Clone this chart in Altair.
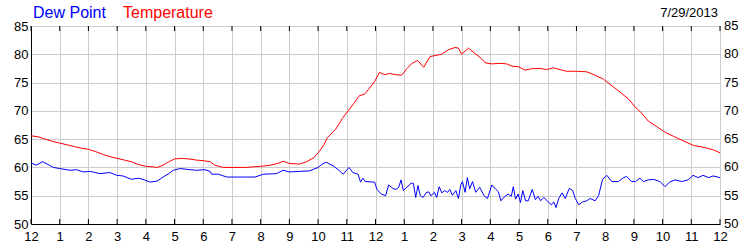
import altair as alt
import pandas as pd

# ---------------- data ----------------
temp_hours = [0.0, 0.25, 0.5, 0.75, 1.0, 1.25, 1.5, 1.75, 2.0, 2.25, 2.5, 2.75, 3.0, 3.25, 3.5, 3.75,
              4.0, 4.25, 4.4, 4.6, 4.8, 5.0, 5.25, 5.5, 5.75, 6.0, 6.25, 6.4, 6.7, 7.0, 7.5, 7.97,
              8.2, 8.43, 8.65, 8.78, 9.0, 9.35, 9.6, 9.87, 10.04, 10.2, 10.33, 10.62, 10.85, 11.03,
              11.26, 11.44, 11.61, 11.79, 11.97, 12.14, 12.32, 12.49, 12.7, 12.91, 13.1, 13.27,
              13.47, 13.68, 13.9, 14.3, 14.54, 14.77, 14.89, 15.0, 15.24, 15.47, 15.64, 15.82,
              16.05, 16.34, 16.57, 16.75, 16.98, 17.21, 17.5, 17.73, 17.96, 18.2, 18.43, 18.65,
              19.0, 19.36, 19.65, 19.94, 20.17, 20.52, 20.81, 21.04, 21.27, 21.5, 21.8, 22.09,
              22.38, 22.72, 23.07, 23.48, 23.77, 24.0]
temp_vals = [65.6, 65.4, 65.0, 64.6, 64.3, 64.0, 63.7, 63.4, 63.2, 62.8, 62.3, 61.9, 61.6, 61.3, 61.0, 60.5,
             60.2, 60.1, 60.0, 60.4, 61.0, 61.5, 61.6, 61.5, 61.3, 61.2, 61.0, 60.4, 60.0, 60.0, 60.0, 60.2,
             60.3, 60.5, 60.8, 61.1, 60.7, 60.6, 61.0, 61.8, 62.8, 64.0, 65.3, 66.8, 68.7, 69.9,
             71.4, 72.7, 72.9, 74.0, 75.2, 76.8, 76.4, 76.6, 76.4, 76.3, 77.5, 78.4,
             78.9, 77.7, 79.6, 80.0, 80.8, 81.2, 81.1, 80.0, 81.1, 80.1, 79.5, 78.5,
             78.3, 78.4, 78.3, 77.9, 77.8, 77.2, 77.5, 77.5, 77.3, 77.6, 77.3, 77.0,
             77.0, 76.9, 76.3, 75.6, 74.7, 73.3, 72.1, 70.7, 69.6, 68.2, 67.2, 66.2,
             65.5, 64.7, 63.9, 63.5, 63.1, 62.6]

dew_hours = [0.0, 0.18, 0.4, 0.6, 0.78, 1.0, 1.36, 1.59, 1.82, 2.06, 2.4, 2.75, 2.99, 3.2, 3.5, 3.75,
             3.95, 4.15, 4.4, 4.6, 4.8, 4.95, 5.2, 5.54, 5.77, 6.06, 6.24, 6.29, 6.52, 6.82, 7.2, 7.5,
             7.8, 8.1, 8.55, 8.78, 9.0, 9.36, 9.71, 10.0, 10.17, 10.29, 10.52, 10.75, 10.87, 11.08,
             11.21, 11.39, 11.48, 11.56, 11.64, 11.97, 12.05, 12.2, 12.35, 12.46, 12.6, 12.72, 12.81,
             12.89, 12.97, 13.09, 13.24, 13.32, 13.4, 13.48, 13.56, 13.66, 13.76, 13.85, 13.93, 14.05,
             14.13, 14.22, 14.31, 14.4, 14.51, 14.59, 14.68, 14.8, 14.89, 14.97, 15.03, 15.12, 15.2,
             15.28, 15.38, 15.49, 15.63, 15.78, 15.9, 16.05, 16.18, 16.28, 16.37, 16.47, 16.62, 16.73,
             16.8, 16.88, 16.97, 17.05, 17.13, 17.23, 17.32, 17.46, 17.57, 17.66, 17.75, 17.86, 17.98,
             18.12, 18.21, 18.29, 18.38, 18.5, 18.61, 18.75, 18.87, 18.96, 19.08, 19.21, 19.36, 19.48,
             19.65, 19.77, 19.91, 20.06, 20.23, 20.46, 20.64, 20.75, 20.92, 21.06, 21.21, 21.33, 21.5,
             21.68, 21.91, 22.08, 22.25, 22.43, 22.66, 22.89, 23.06, 23.24, 23.41, 23.61, 23.76, 24.0]
dew_vals = [60.8, 60.4, 61.0, 60.5, 60.0, 59.8, 59.5, 59.6, 59.2, 59.3, 58.9, 59.1, 58.6, 58.5, 57.9, 58.1,
            57.8, 57.4, 57.6, 58.3, 58.9, 59.5, 59.8, 59.6, 59.5, 59.6, 59.3, 58.8, 58.8, 58.3, 58.3, 58.3,
            58.3, 58.8, 58.9, 59.5, 59.2, 59.3, 59.4, 60.0, 60.7, 60.9, 60.3, 59.4, 58.8, 60.0,
            59.1, 58.8, 57.4, 58.1, 57.5, 57.4, 56.1, 55.3, 55.0, 56.9, 56.3, 56.1, 56.5,
            57.8, 55.9, 56.5, 57.2, 57.2, 54.7, 56.8, 55.0, 54.7, 55.5, 55.7, 55.0, 55.6,
            54.7, 56.6, 55.5, 55.9, 55.6, 56.1, 55.1, 55.9, 54.5, 56.9, 57.5, 55.6, 58.2,
            56.2, 57.5, 55.6, 56.5, 55.0, 54.5, 56.9, 56.2, 55.7, 54.1, 54.7, 55.3, 54.9,
            56.6, 54.4, 55.3, 53.8, 55.9, 54.1, 54.1, 56.1, 54.3, 54.9, 54.1, 54.7, 54.1,
            53.4, 53.9, 52.9, 54.5, 55.5, 54.5, 56.3, 55.9, 54.5, 53.4, 53.9, 54.1, 54.5,
            54.1, 55.0, 57.9, 58.6, 57.5, 57.5, 58.2, 58.4, 57.5, 57.5, 58.1, 57.5, 57.8,
            57.9, 57.5, 56.6, 57.4, 57.8, 57.5, 57.8, 58.6, 58.2, 58.6, 58.2, 58.5, 58.2]

tick_hours = list(range(25))
tick_labels = ["12", "1", "2", "3", "4", "5", "6", "7", "8", "9", "10", "11",
               "12", "1", "2", "3", "4", "5", "6", "7", "8", "9", "10", "11", "12"]
y_ticks = [50, 55, 60, 65, 70, 75, 80, 85]
series_names = ["Dew Point", "Temperature"]
date_label = ["7/29/2013"]

# ---------------- chart ----------------
FONT = "Liberation Sans"
W, H = 689, 198

temp_df = pd.DataFrame({"hour": temp_hours, "value": temp_vals})
dew_df = pd.DataFrame({"hour": dew_hours, "value": dew_vals})
tick_df = pd.DataFrame({"hour": tick_hours})
ytick_df = pd.DataFrame({"value": y_ticks})

xscale = alt.Scale(domain=[0, 24], nice=False, zero=False)
yscale = alt.Scale(domain=[50, 85], nice=False, zero=False)

label_expr = "[" + ",".join("'" + s + "'" for s in tick_labels) + "][datum.value]"

x_axis = alt.Axis(values=tick_hours, labelExpr=label_expr, grid=True,
                  gridColor="#cccccc", ticks=False, domainColor="black",
                  labelFont=FONT, labelFontSize=13, labelColor="black",
                  labelPadding=6, labelFlush=False, labelOverlap=False)
y_axis = alt.Axis(orient="left", values=y_ticks, grid=True, gridColor="#cccccc",
                  ticks=False, domainColor="black", labelFont=FONT, labelFontSize=13,
                  labelColor="black", labelPadding=3, labelFlush=False,
                  labelOverlap=False)


def xenc():
    return alt.X("hour:Q", scale=xscale, title=None, axis=x_axis)


def yenc():
    return alt.Y("value:Q", scale=yscale, title=None, axis=y_axis)


temp = alt.Chart(temp_df).mark_line(color="#ff0000", strokeWidth=1).encode(x=xenc(), y=yenc())
dew = alt.Chart(dew_df).mark_line(color="#0000ff", strokeWidth=1).encode(x=xenc(), y=yenc())

ticks_bottom = alt.Chart(tick_df).mark_rule(color="black", strokeWidth=1).encode(
    x=xenc(), y=alt.value(H), y2=alt.value(H - 5),
)
ticks_top = alt.Chart(tick_df).mark_rule(color="black", strokeWidth=1).encode(
    x=xenc(), y=alt.value(0), y2=alt.value(5),
)

# right-hand axis labels, placed through the shared y scale
right_labels = alt.Chart(ytick_df).mark_text(
    font=FONT, fontSize=13, color="black", align="left", baseline="middle"
).encode(text=alt.Text("value:Q"), y=yenc(), x=alt.value(W + 4))

legend_dew = alt.Chart(pd.DataFrame({"t": [series_names[0]]})).mark_text(
    font=FONT, fontSize=16, color="#0000ff", align="left", baseline="alphabetic"
).encode(text="t:N", x=alt.value(2), y=alt.value(-8))

legend_temp = alt.Chart(pd.DataFrame({"t": [series_names[1]]})).mark_text(
    font=FONT, fontSize=16, color="#ff0000", align="left", baseline="alphabetic"
).encode(text="t:N", x=alt.value(92), y=alt.value(-8))

date_text = alt.Chart(pd.DataFrame({"t": date_label})).mark_text(
    font=FONT, fontSize=13, color="black", align="right", baseline="alphabetic"
).encode(text="t:N", x=alt.value(W - 2), y=alt.value(-9))

chart = alt.layer(
    temp, dew, ticks_bottom, ticks_top, right_labels, legend_dew, legend_temp, date_text
).properties(
    width=W, height=H,
    autosize=alt.AutoSizeParams(type="none"),
    padding={"left": 31, "top": 26, "right": 30, "bottom": 26},
    background="white",
).configure_view(stroke="black", strokeWidth=1)

chart.save("out.html", embed_options={"renderer": "svg", "actions": False})
